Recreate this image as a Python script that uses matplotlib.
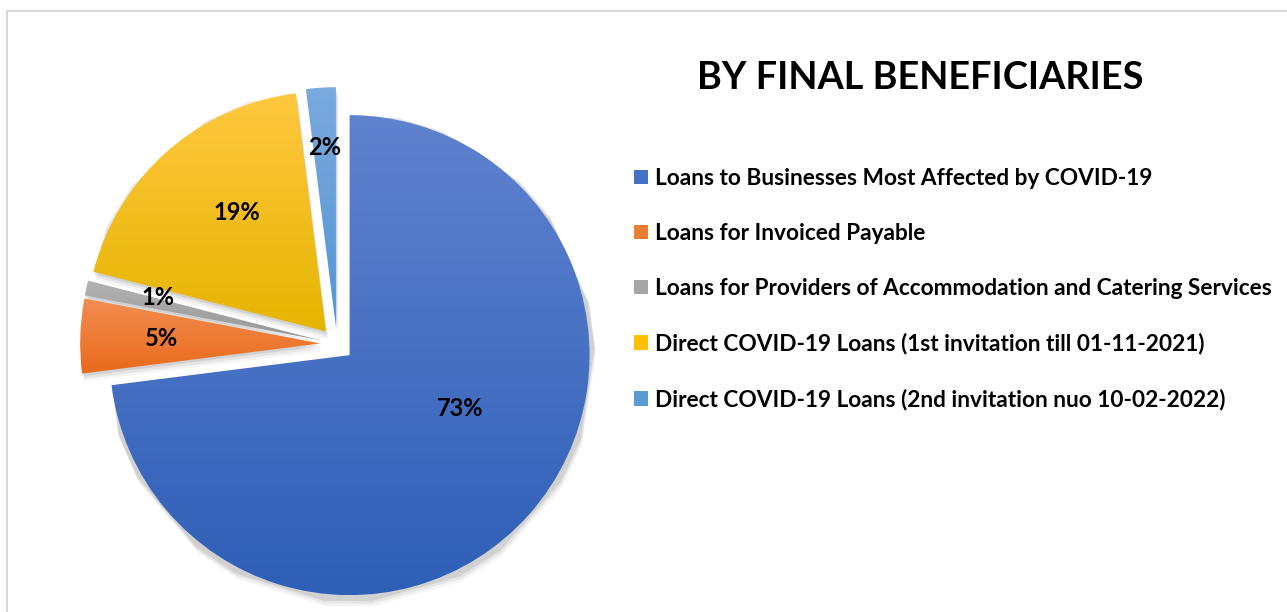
import numpy as np
import matplotlib.pyplot as plt
from matplotlib.patches import Patch, Rectangle
from matplotlib.colors import LinearSegmentedColormap

plt.rcParams['font.family'] = ['Lato', 'DejaVu Sans']

# data
categories = [
    'Loans to Businesses Most Affected by COVID-19',
    'Loans for Invoiced Payable',
    'Loans for Providers of Accommodation and Catering Services',
    'Direct COVID-19 Loans (1st invitation till 01-11-2021)',
    'Direct COVID-19 Loans (2nd invitation nuo 10-02-2022)',
]
shares = [73, 5, 1, 19, 2]
title = 'BY FINAL BENEFICIARIES'

# gradient colours (top, bottom) per slice, Excel-like
top_colors = ['#6082cf', '#f28e52', '#b3b3b3', '#ffc840', '#7aaade']
bottom_colors = ['#2e5fb7', '#e96a1a', '#979797', '#e6b400', '#5596d4']
legend_colors = ['#4472c4', '#ed7d31', '#a5a5a5', '#ffc000', '#5b9bd5']

# label placement (distance from centre, angle tweak in degrees)
label_r = [0.58, 0.73, 0.77, 0.69, 0.82]
label_dang = [14, 0, -2, -4, 0]

fig = plt.figure(figsize=(12.87, 6.12), dpi=100)
W, H = 1287, 612

# light frame like the Excel chart area
fig.patches.append(Rectangle((7 / W, -0.1), 1.2, 1 - 10.5 / H + 0.1, transform=fig.transFigure,
                             fill=False, edgecolor='#d9d9d9', linewidth=1.5))

cx, cy, rad = 337, 268, 240  # pie centre / radius in pixels
lim = 1.25
size = 2 * lim * rad
ax = fig.add_axes([(cx - size / 2) / W, (cy - size / 2) / H, size / W, size / H])

explode = [0.07] * len(shares)
wedges, _ = ax.pie(shares, explode=explode, startangle=90, counterclock=False,
                   radius=1, wedgeprops=dict(linewidth=0))
ax.set_aspect('equal')
ax.axis('off')

grad = np.linspace(0, 1, 256).reshape(-1, 1)
for i, w in enumerate(wedges):
    ext = w.get_path().get_extents()
    # soft shadow
    for k, a in enumerate([0.04, 0.06, 0.09]):
        off = 0.011 * (3 - k)
        sh = plt.Polygon(w.get_path().vertices + np.array([off * 0.3, -off]),
                         closed=True, facecolor='black', alpha=a, linewidth=0, zorder=1)
        ax.add_patch(sh)
    w.set_facecolor('none')
    w.set_zorder(3)
    cmap = LinearSegmentedColormap.from_list(f'g{i}', [bottom_colors[i], top_colors[i]])
    im = ax.imshow(grad, cmap=cmap, origin='lower', aspect='auto',
                   extent=[ext.x0, ext.x1, ext.y0, ext.y1], zorder=2)
    im.set_clip_path(w)

    mid = np.deg2rad((w.theta1 + w.theta2) / 2 + label_dang[i])
    ax.text(label_r[i] * np.cos(mid), label_r[i] * np.sin(mid), f'{shares[i]}%',
            ha='center', va='center', fontsize=17, fontweight='bold', color='black', zorder=5)

ax.set_xlim(-lim, lim)
ax.set_ylim(-lim, lim)

fig.text(920 / W, 1 - 78 / H, title, ha='center', va='center',
         fontsize=27.3, fontweight='bold', color='black')

handles = [Patch(facecolor=c, edgecolor='none') for c in legend_colors]
fig.legend(handles, categories, loc='upper left', bbox_to_anchor=(634 / W, 1 - 168 / H),
           frameon=False, prop=dict(weight='bold', size=16.3),
           handlelength=0.62, handleheight=0.62, handletextpad=0.3,
           labelspacing=1.5, borderaxespad=0, borderpad=0)

fig.savefig('out.png', dpi=100)
